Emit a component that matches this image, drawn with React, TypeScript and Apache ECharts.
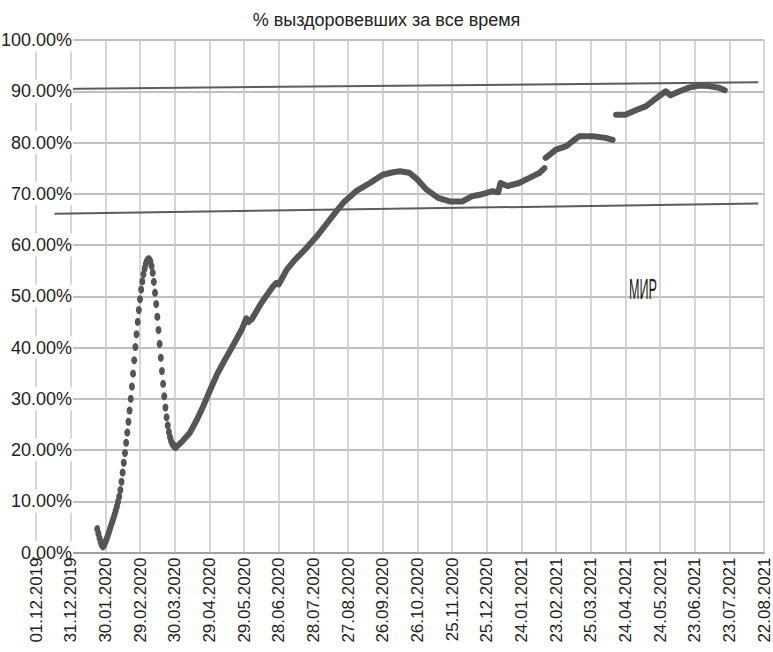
import React, { useEffect, useRef } from 'react';
import * as echarts from 'echarts';

const FONT = '"Liberation Sans", Arial, "Noto Sans", sans-serif';

const TITLE = '% выздоровевших за все время';
const REGION_LABEL = 'МИР';

const xTickLabels = [
  '01.12.2019', '31.12.2019', '30.01.2020', '29.02.2020', '30.03.2020', '29.04.2020',
  '29.05.2020', '28.06.2020', '28.07.2020', '27.08.2020', '26.09.2020', '26.10.2020',
  '25.11.2020', '25.12.2020', '24.01.2021', '23.02.2021', '25.03.2021', '24.04.2021',
  '24.05.2021', '23.06.2021', '23.07.2021', '22.08.2021',
];
const xTickStepDays = 30;

const yTickLabels = [
  '0.00%', '10.00%', '20.00%', '30.00%', '40.00%', '50.00%',
  '60.00%', '70.00%', '80.00%', '90.00%', '100.00%',
];
const yTickStep = 10;

// Early period: one value per day, starting at this date (% recovered)
const earlyStartDate = '23.01.2020';
const earlyDailyValues = [
  4.6, 3.7, 2.8, 2.0, 1.4, 1.2, 1.5, 2.0, 2.6, 3.2,
  3.9, 4.6, 5.3, 6.0, 6.7, 7.4, 8.2, 9.0, 9.9, 10.9,
  12.2, 13.8, 15.6, 17.5, 19.4, 21.4, 23.4, 25.5, 27.7, 30.0,
  32.4, 34.9, 37.5, 40.1, 42.6, 45.0, 47.3, 49.4, 51.3, 52.9,
  54.3, 55.4, 56.3, 56.9, 57.2, 57.2, 56.8, 55.9, 54.6, 52.8,
  50.7, 48.5, 46.0, 43.4, 40.7, 38.0, 35.4, 32.9, 30.5, 28.3,
  26.4, 24.8, 23.5, 22.5, 21.7, 21.2, 20.9, 20.7, 20.6,
];

// Segment 1: April 2020 – mid February 2021
const segment1Dates = [
  '01.04.2020', '06.04.2020', '12.04.2020', '18.04.2020', '24.04.2020', '01.05.2020',
  '06.05.2020', '11.05.2020', '19.05.2020', '27.05.2020', '31.05.2020', '02.06.2020',
  '05.06.2020', '13.06.2020', '23.06.2020', '26.06.2020', '28.06.2020', '05.07.2020',
  '12.07.2020', '22.07.2020', '31.07.2020', '08.08.2020', '17.08.2020', '24.08.2020',
  '03.09.2020', '15.09.2020', '26.09.2020', '05.10.2020', '11.10.2020', '19.10.2020',
  '26.10.2020', '03.11.2020', '13.11.2020', '23.11.2020', '04.12.2020', '12.12.2020',
  '19.12.2020', '30.12.2020', '04.01.2021', '06.01.2021', '12.01.2021', '22.01.2021',
  '31.01.2021', '09.02.2021', '13.02.2021',
];
const segment1Values = [
  20.7, 21.8, 23.3, 25.8, 28.7, 32.4,
  34.9, 37.0, 40.2, 43.5, 45.7, 45.0,
  45.6, 48.7, 51.9, 52.6, 52.3, 55.2,
  57.1, 59.4, 61.7, 64.0, 66.6, 68.5,
  70.5, 72.1, 73.7, 74.2, 74.4, 74.1,
  72.8, 70.8, 69.2, 68.5, 68.5, 69.5,
  69.8, 70.5, 70.3, 72.1, 71.5, 72.1,
  73.1, 74.1, 75.0,
];

// Segment 2: mid February 2021 – mid April 2021
const segment2Dates = [
  '14.02.2021', '23.02.2021', '04.03.2021', '09.03.2021', '15.03.2021',
  '27.03.2021', '07.04.2021', '13.04.2021',
];
const segment2Values = [77.0, 78.6, 79.3, 80.2, 81.2, 81.2, 80.9, 80.5];

// Segment 3: mid April 2021 – July 2021
const segment3Dates = [
  '16.04.2021', '24.04.2021', '03.05.2021', '12.05.2021', '20.05.2021', '29.05.2021',
  '02.06.2021', '10.06.2021', '18.06.2021', '27.06.2021', '05.07.2021', '14.07.2021',
  '19.07.2021',
];
const segment3Values = [85.4, 85.4, 86.3, 87.1, 88.5, 90.0, 89.2, 90.0, 90.7, 91.1, 91.0, 90.7, 90.2];

// Trend (guide) lines
const upperTrendDates = ['17.12.2019', '17.08.2021'];
const upperTrendValues = [90.45, 91.75];
const lowerTrendDates = ['17.12.2019', '17.08.2021'];
const lowerTrendValues = [66.1, 68.1];

const ORIGIN = Date.UTC(2019, 11, 1);
function dayIndex(s: string): number {
  const [d, m, y] = s.split('.').map(Number);
  return Math.round((Date.UTC(y, m - 1, d) - ORIGIN) / 86400000);
}
function pairs(dates: string[], values: number[]) {
  return dates.map((d, i) => [dayIndex(d), values[i]]);
}

const CURVE = '#555555';

export default function App() {
  const ref = useRef<HTMLDivElement>(null);
  useEffect(() => {
    document.body.style.margin = '0';
    if (!ref.current) return;
    const chart = echarts.init(ref.current, undefined, { renderer: 'svg' });
    const xMin = dayIndex(xTickLabels[0]);
    const xMax = dayIndex(xTickLabels[xTickLabels.length - 1]);
    const earlyStart = dayIndex(earlyStartDate);
    const lineSeries = (data: number[][]) => ({
      type: 'line',
      data,
      symbol: 'none',
      showSymbol: false,
      lineStyle: { color: CURVE, width: 6, cap: 'round', join: 'round' },
      z: 3,
    });
    const option: any = {
      animation: false,
      backgroundColor: '#ffffff',
      textStyle: { fontFamily: FONT },
      title: {
        text: TITLE,
        left: 'center',
        top: 6,
        textStyle: { fontSize: 18, fontWeight: 'normal', color: '#222', fontFamily: FONT },
      },
      grid: { left: 36, right: 9, top: 40, bottom: 99.5, containLabel: false, outerBoundsMode: 'none' },
      xAxis: [
        {
          type: 'value',
          min: xMin,
          max: xMax,
          interval: xTickStepDays,
          position: 'bottom',
          axisLine: { show: true, lineStyle: { color: '#a0a0a0', width: 2 } },
          axisTick: { show: false },
          axisLabel: { show: false },
          splitLine: { show: true, lineStyle: { color: '#c8c8c8', width: 1.5 } },
        },
        {
          type: 'value',
          min: xMin,
          max: xMax,
          interval: xTickStepDays,
          position: 'bottom',
          offset: 0,
          z: 12,
          axisLine: { show: false },
          axisTick: { show: false },
          splitLine: { show: false },
          axisLabel: {
            rotate: 90,
            fontSize: 17,
            color: '#222',
            margin: 5,
            fontFamily: FONT,
            showMinLabel: true,
            showMaxLabel: true,
            formatter: (v: number) => xTickLabels[Math.round((v - xMin) / xTickStepDays)] ?? '',
          },
        },
      ],
      yAxis: [
        {
          type: 'value',
          min: 0,
          max: 100,
          interval: yTickStep,
          axisLine: { show: false },
          axisTick: { show: false },
          axisLabel: { show: false },
          splitLine: { show: true, lineStyle: { color: '#ababab', width: 1.5 } },
        },
        {
          type: 'value',
          min: 0,
          max: 100,
          interval: yTickStep,
          position: 'left',
          z: 10,
          axisLine: { show: false },
          axisTick: { show: false },
          splitLine: { show: false },
          axisLabel: {
            inside: true,
            align: 'right',
            margin: 37,
            fontSize: 18,
            color: '#222',
            fontFamily: FONT,
            backgroundColor: '#ffffff',
            padding: [1, 1, 4, 1],
            formatter: (v: number) => yTickLabels[Math.round(v / yTickStep)] ?? '',
          },
        },
      ],
      graphic: [
        {
          type: 'text',
          x: 643,
          y: 289,
          scaleX: 0.42,
          z: 20,
          style: {
            text: REGION_LABEL,
            fontSize: 30,
            fontFamily: FONT,
            fill: '#1c1c1c',
            textAlign: 'center',
            textVerticalAlign: 'middle',
          },
        },
      ],
      series: [
        {
          type: 'line',
          data: pairs(upperTrendDates, upperTrendValues),
          symbol: 'none',
          lineStyle: { color: '#5c5c5c', width: 2 },
          z: 2,
        },
        {
          type: 'line',
          data: pairs(lowerTrendDates, lowerTrendValues),
          symbol: 'none',
          lineStyle: { color: '#5c5c5c', width: 2 },
          z: 2,
        },
        {
          type: 'scatter',
          data: earlyDailyValues.map((v, i) => [earlyStart + i, v]),
          symbol: 'circle',
          symbolSize: [6, 8],
          itemStyle: { color: CURVE, opacity: 1 },
          z: 3,
        },
        lineSeries(pairs(segment1Dates, segment1Values)),
        lineSeries(pairs(segment2Dates, segment2Values)),
        lineSeries(pairs(segment3Dates, segment3Values)),
      ],
    };
    chart.setOption(option);
    return () => chart.dispose();
  }, []);
  return (
    <div
      ref={ref}
      style={{ position: 'absolute', left: 0, top: 0, width: 773, height: 652, background: '#fff' }}
    />
  );
}
